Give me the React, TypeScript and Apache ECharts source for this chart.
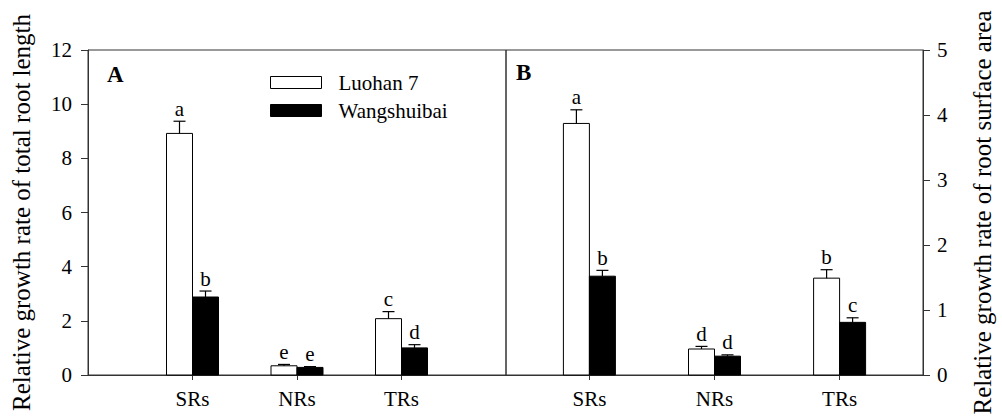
import React, { useEffect, useRef } from 'react';
import * as echarts from 'echarts';

// ---- data ----
const categories = ['SRs', 'NRs', 'TRs'];
const seriesNames = ['Luohan 7', 'Wangshuibai'];

// Panel A: relative growth rate of total root length
const lengthLuohan = [8.92, 0.34, 2.08];
const lengthLuohanErr = [0.45, 0.05, 0.26];
const lengthLuohanLetters = ['a', 'e', 'c'];
const lengthWang = [2.88, 0.28, 1.0];
const lengthWangErr = [0.22, 0.03, 0.12];
const lengthWangLetters = ['b', 'e', 'd'];

// Panel B: relative growth rate of root surface area
const areaLuohan = [3.87, 0.4, 1.49];
const areaLuohanErr = [0.21, 0.04, 0.13];
const areaLuohanLetters = ['a', 'd', 'b'];
const areaWang = [1.52, 0.29, 0.81];
const areaWangErr = [0.09, 0.02, 0.07];
const areaWangLetters = ['b', 'd', 'c'];

const lengthAxis = { min: 0, max: 12, interval: 2 };
const areaAxis = { min: 0, max: 5, interval: 1 };

// slot positions of the categories on each panel's x axis (layout)
const slotsA = { count: 5, at: [1, 2, 3] };
const slotsB = { count: 11, at: [2, 5, 8] };

const FONT = 'Liberation Serif';
const AXIS_COLOR = '#333';

function buildAxisData(slots: { count: number; at: number[] }) {
  const arr: string[] = new Array(slots.count).fill('');
  slots.at.forEach((p, i) => (arr[p] = categories[i]));
  return arr;
}

function buildData(slots: { count: number; at: number[] }, values: number[]) {
  return values.map((v, i) => [slots.at[i], v]);
}

function makeRender(errs: number[], letters: string[], side: number, fill: string) {
  return (params: any, api: any) => {
    const i = params.dataIndex;
    const xi = api.value(0);
    const v = api.value(1);
    const e = errs[i];
    const base = api.coord([xi, 0]);
    const top = api.coord([xi, v]);
    const errTop = api.coord([xi, v + e]);
    const w = 26;
    const x0 = side < 0 ? base[0] - w : base[0];
    const cx = x0 + w / 2;
    return {
      type: 'group',
      children: [
        {
          type: 'rect',
          shape: { x: x0, y: top[1], width: w, height: base[1] - top[1] },
          style: { fill, stroke: '#000', lineWidth: 1 },
        },
        {
          type: 'line',
          shape: { x1: cx, y1: top[1], x2: cx, y2: errTop[1] },
          style: { stroke: '#000', lineWidth: 1.2 },
        },
        {
          type: 'line',
          shape: { x1: cx - 6, y1: errTop[1], x2: cx + 6, y2: errTop[1] },
          style: { stroke: '#000', lineWidth: 1.2 },
        },
        {
          type: 'text',
          x: cx,
          y: errTop[1] - 2,
          style: {
            text: letters[i],
            fill: '#000',
            fontSize: 21,
            fontFamily: FONT,
            align: 'center',
            verticalAlign: 'bottom',
          },
        },
      ],
    };
  };
}

function xAxisFor(gridIndex: number, slots: { count: number; at: number[] }) {
  const data = buildAxisData(slots);
  return {
    type: 'category',
    gridIndex,
    data,
    boundaryGap: false,
    axisLine: { lineStyle: { color: AXIS_COLOR, width: 1 } },
    axisTick: {
      inside: false,
      length: 5,
      interval: (idx: number) => data[idx] !== '',
      lineStyle: { color: AXIS_COLOR },
    },
    axisLabel: { interval: 0, color: '#000', fontSize: 21, fontFamily: FONT, margin: 13 },
    splitLine: { show: false },
  };
}

export default function App() {
  const ref = useRef<HTMLDivElement>(null);
  useEffect(() => {
    if (!ref.current) return;
    const chart = echarts.init(ref.current, undefined, { renderer: 'svg' });
    const option: any = {
      animation: false,
      backgroundColor: '#fff',
      textStyle: { fontFamily: FONT },
      grid: [
        { left: 88, right: 496, top: 50, bottom: 42, show: true, borderColor: AXIS_COLOR, borderWidth: 1, backgroundColor: 'transparent' },
        { left: 506, right: 79, top: 50, bottom: 42, show: true, borderColor: AXIS_COLOR, borderWidth: 1, backgroundColor: 'transparent' },
      ],
      legend: {
        orient: 'vertical',
        left: 270,
        top: 72,
        padding: 0,
        itemWidth: 51,
        itemHeight: 12,
        itemGap: 7,
        selectedMode: false,
        textStyle: { color: '#000', fontSize: 21, fontFamily: FONT, padding: [0, 0, 0, 12] },
        data: [
          { name: seriesNames[0], icon: 'rect', itemStyle: { color: '#fff', borderColor: '#000', borderWidth: 1 } },
          { name: seriesNames[1], icon: 'rect', itemStyle: { color: '#000', borderColor: '#000', borderWidth: 1 } },
        ],
      },
      xAxis: [xAxisFor(0, slotsA), xAxisFor(1, slotsB)],
      yAxis: [
        {
          type: 'value',
          gridIndex: 0,
          position: 'left',
          ...lengthAxis,
          name: 'Relative growth rate of total root length',
          nameLocation: 'middle',
          nameRotate: 90,
          nameGap: 54,
          nameTextStyle: { color: '#000', fontSize: 25, fontFamily: FONT },
          axisLine: { show: true, lineStyle: { color: AXIS_COLOR } },
          axisTick: { show: true, inside: false, length: 7, lineStyle: { color: AXIS_COLOR } },
          axisLabel: { color: '#000', fontSize: 21, fontFamily: FONT, margin: 16 },
          splitLine: { show: false },
        },
        {
          type: 'value',
          gridIndex: 1,
          position: 'right',
          ...areaAxis,
          name: 'Relative growth rate of root surface area',
          nameLocation: 'middle',
          nameRotate: 90,
          nameGap: 47,
          nameTextStyle: { color: '#000', fontSize: 25, fontFamily: FONT },
          axisLine: { show: true, lineStyle: { color: AXIS_COLOR } },
          axisTick: { show: true, inside: false, length: 7, lineStyle: { color: AXIS_COLOR } },
          axisLabel: { color: '#000', fontSize: 21, fontFamily: FONT, margin: 14 },
          splitLine: { show: false },
        },
      ],
      series: [
        {
          type: 'custom', name: seriesNames[0], xAxisIndex: 0, yAxisIndex: 0, clip: false,
          itemStyle: { color: '#fff', borderColor: '#000' },
          encode: { x: 0, y: 1 },
          data: buildData(slotsA, lengthLuohan),
          renderItem: makeRender(lengthLuohanErr, lengthLuohanLetters, -1, '#fff'),
        },
        {
          type: 'custom', name: seriesNames[1], xAxisIndex: 0, yAxisIndex: 0, clip: false,
          itemStyle: { color: '#000', borderColor: '#000' },
          encode: { x: 0, y: 1 },
          data: buildData(slotsA, lengthWang),
          renderItem: makeRender(lengthWangErr, lengthWangLetters, 1, '#000'),
        },
        {
          type: 'custom', name: seriesNames[0], xAxisIndex: 1, yAxisIndex: 1, clip: false,
          itemStyle: { color: '#fff', borderColor: '#000' },
          encode: { x: 0, y: 1 },
          data: buildData(slotsB, areaLuohan),
          renderItem: makeRender(areaLuohanErr, areaLuohanLetters, -1, '#fff'),
        },
        {
          type: 'custom', name: seriesNames[1], xAxisIndex: 1, yAxisIndex: 1, clip: false,
          itemStyle: { color: '#000', borderColor: '#000' },
          encode: { x: 0, y: 1 },
          data: buildData(slotsB, areaWang),
          renderItem: makeRender(areaWangErr, areaWangLetters, 1, '#000'),
        },
      ],
      graphic: [
        { type: 'text', left: 107, top: 63, style: { text: 'A', fill: '#000', fontSize: 23, fontWeight: 'bold', fontFamily: FONT } },
        { type: 'text', left: 516, top: 61, style: { text: 'B', fill: '#000', fontSize: 23, fontWeight: 'bold', fontFamily: FONT } },
      ],
    };
    chart.setOption(option);
    return () => chart.dispose();
  }, []);
  return (
    <div
      ref={ref}
      style={{ position: 'absolute', left: 0, top: 0, width: 1002, height: 417, background: '#fff' }}
    />
  );
}
